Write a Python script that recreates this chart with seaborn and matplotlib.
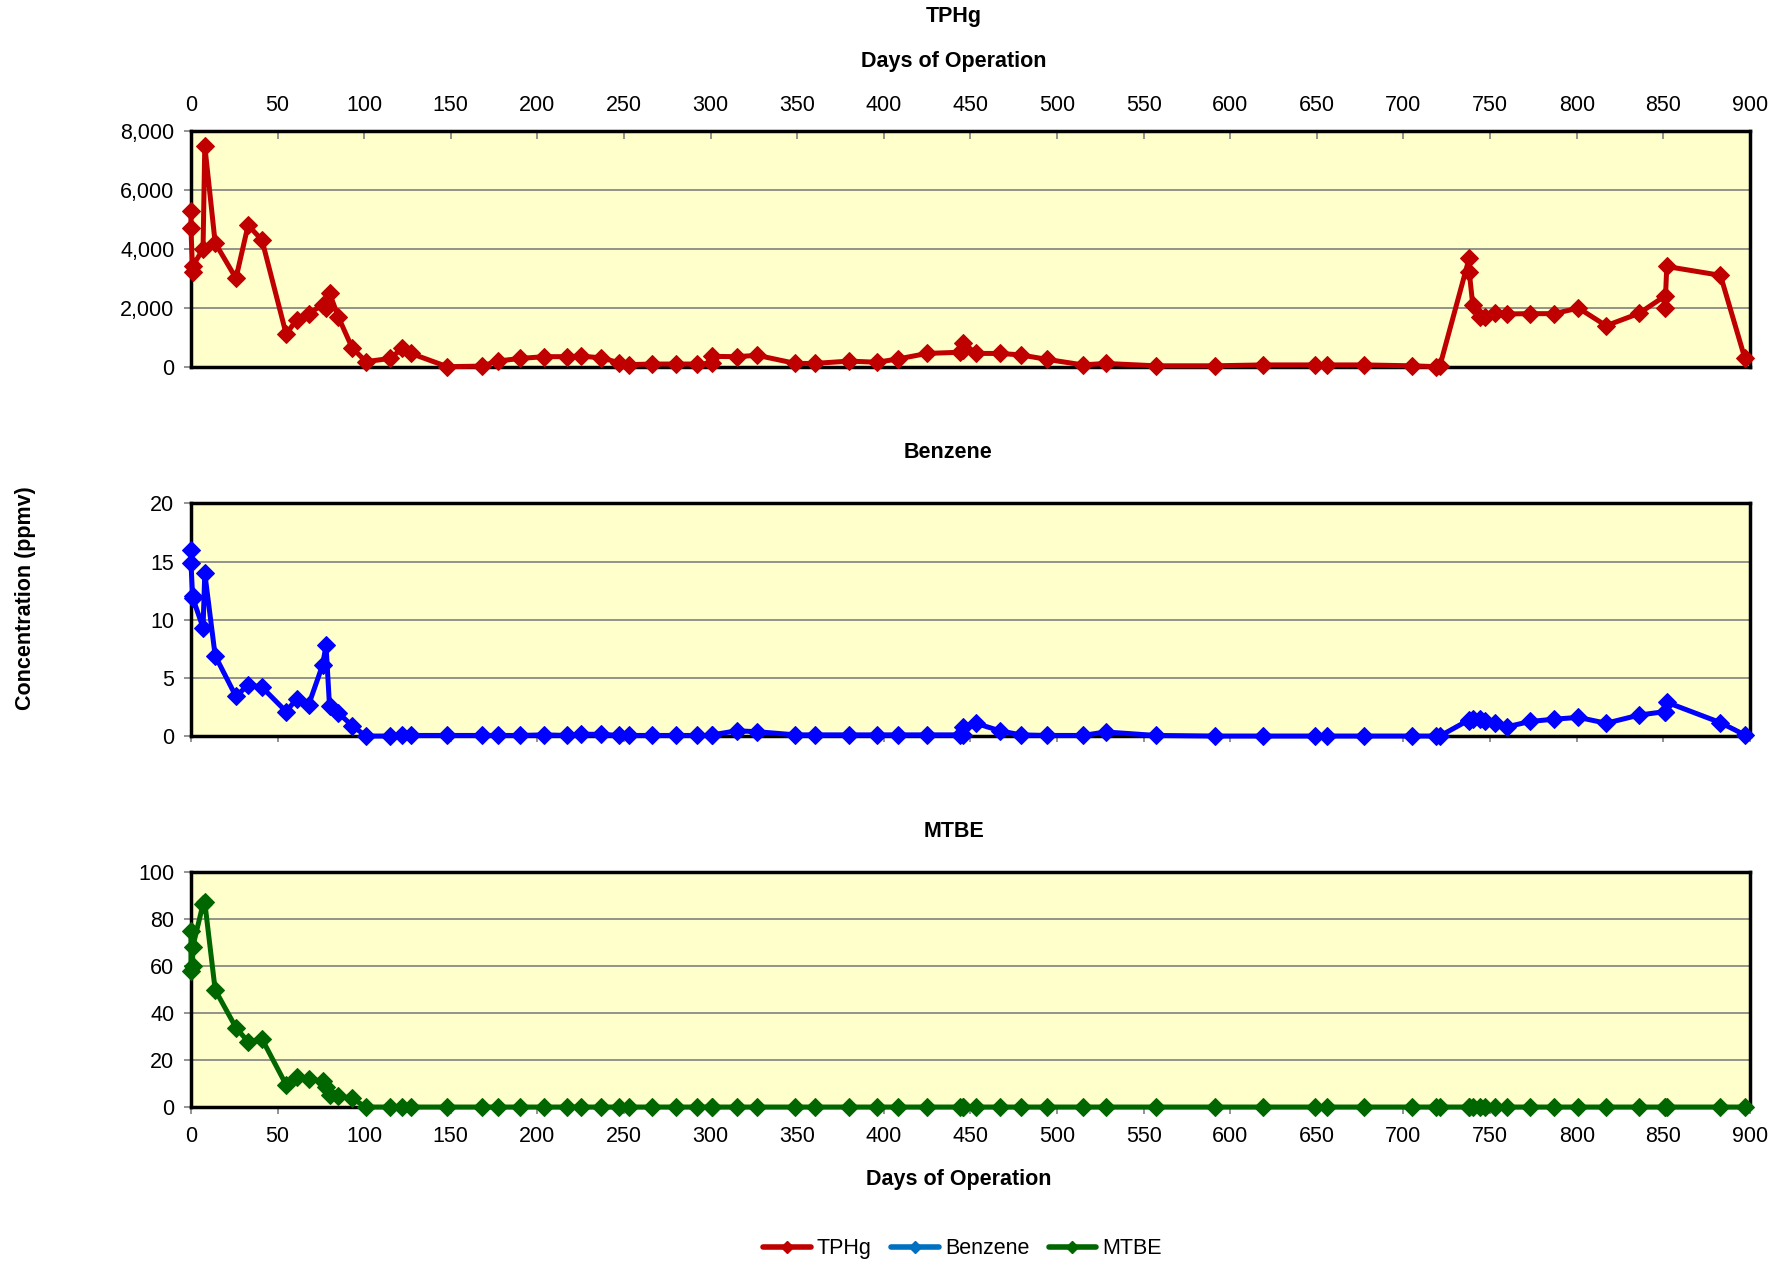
import matplotlib
matplotlib.use('Agg')
import matplotlib.pyplot as plt
from matplotlib.lines import Line2D
from matplotlib.ticker import FuncFormatter, MultipleLocator
import seaborn as sns

sns.set_style('white')
plt.rcParams['font.family'] = ['Liberation Sans', 'DejaVu Sans']
plt.rcParams['text.color'] = 'black'
plt.rcParams['xtick.labelcolor'] = 'black'
plt.rcParams['ytick.labelcolor'] = 'black'

# sampling days (shared by all three compounds)
days = [0, 0, 1, 1, 7, 8, 14, 26, 33, 41,
        55, 61, 68, 76, 78, 80, 85, 93, 101, 115,
        122, 127, 148, 168, 177, 190, 204, 217, 225, 237,
        247, 253, 266, 280, 292, 301, 301, 315, 327, 349,
        360, 380, 396, 408, 425, 444, 446, 446, 453, 467,
        479, 494, 515, 528, 557, 591, 619, 649, 656, 677,
        705, 719, 721, 738, 738, 740, 744, 747, 753, 760,
        773, 787, 801, 817, 836, 851, 851, 852, 883, 897]

tphg = [5300, 4700, 3200, 3400, 4000, 7500, 4200, 3000, 4800, 4300,
        1100, 1600, 1800, 2100, 2000, 2500, 1700, 650, 170, 280,
        620, 450, 0, 20, 190, 280, 340, 340, 360, 300,
        135, 70, 90, 90, 90, 110, 350, 340, 385, 110,
        110, 190, 150, 260, 450, 490, 570, 815, 450, 450,
        400, 250, 60, 110, 30, 30, 60, 60, 60, 60,
        30, 0, 20, 3700, 3200, 2100, 1700, 1670, 1810, 1790,
        1800, 1800, 1990, 1390, 1810, 2400, 2000, 3400, 3100, 300]

benzene = [16.0, 14.9, 12.0, 11.9, 9.3, 14.0, 6.9, 3.4, 4.4, 4.2,
           2.1, 3.2, 2.7, 6.1, 7.8, 2.6, 2.0, 0.9, 0.0, 0.0,
           0.05, 0.05, 0.05, 0.05, 0.05, 0.05, 0.1, 0.05, 0.15, 0.15,
           0.05, 0.05, 0.05, 0.05, 0.05, 0.05, 0.1, 0.45, 0.37, 0.1,
           0.1, 0.1, 0.1, 0.1, 0.1, 0.1, 0.1, 0.8, 1.1, 0.45,
           0.1, 0.05, 0.05, 0.35, 0.05, 0.0, 0.0, 0.0, 0.0, 0.0,
           0.0, 0.0, 0.0, 1.4, 1.3, 1.45, 1.45, 1.25, 1.15, 0.8,
           1.25, 1.45, 1.6, 1.1, 1.8, 2.1, 2.1, 2.9, 1.15, 0.1]

mtbe = [75, 58, 60, 68, 86.5, 87.2, 49.9, 33.8, 27.8, 29,
        9.4, 12.9, 11.8, 11.1, 8.7, 5.1, 4.7, 3.7, 0, 0,
        0, 0, 0, 0, 0, 0, 0, 0, 0, 0,
        0, 0, 0, 0, 0, 0, 0, 0, 0, 0,
        0, 0, 0, 0, 0, 0, 0, 0, 0, 0,
        0, 0, 0, 0, 0, 0, 0, 0, 0, 0,
        0, 0, 0, 0, 0, 0, 0, 0, 0, 0,
        0, 0, 0, 0, 0, 0, 0, 0, 0, 0]

names = ['TPHg', 'Benzene', 'MTBE']
colors = ['#C00000', '#0000FF', '#006600']
legend_colors = ['#C00000', '#0070C0', '#006600']
ymax = [8000, 20, 100]
ystep = [2000, 5, 20]

fig = plt.figure(figsize=(17.86, 12.64), dpi=100)
rects = [[0.1069, 0.7099, 0.8729, 0.1865],
         [0.1069, 0.4177, 0.8729, 0.1841],
         [0.1069, 0.1242, 0.8729, 0.1857]]

fs = 15.5

for i, vals in enumerate([tphg, benzene, mtbe]):
    ax = fig.add_axes(rects[i])
    ax.set_facecolor('#FFFFCC')
    sns.lineplot(x=days, y=vals, ax=ax, sort=False, estimator=None,
                 color=colors[i], linewidth=3.6, marker='D', markersize=9,
                 markeredgecolor=colors[i], clip_on=False, zorder=3)
    ax.set_xlim(0, 900)
    ax.set_ylim(0, ymax[i])
    ax.xaxis.set_major_locator(MultipleLocator(50))
    ax.yaxis.set_major_locator(MultipleLocator(ystep[i]))
    ax.set_axisbelow(True)
    ax.yaxis.grid(True, color='#808080', linewidth=1.2)
    ax.xaxis.grid(False)
    for s in ax.spines.values():
        s.set_color('black')
        s.set_linewidth(2.5)
    ax.set_xlabel('')
    ax.set_ylabel('')
    ax.tick_params(axis='y', direction='out', length=5, width=1.2,
                   labelsize=fs, pad=7, left=True, color='#808080')
    if i == 0:
        ax.yaxis.set_major_formatter(FuncFormatter(lambda v, p: f'{v:,.0f}'))
        ax.xaxis.tick_top()
        ax.tick_params(axis='x', direction='in', length=6, width=1.2,
                       labelsize=fs, pad=11, color='#808080')
    elif i == 1:
        ax.tick_params(axis='x', direction='out', length=4, width=1.2,
                       labelbottom=False, bottom=True, color='#808080')
    else:
        ax.tick_params(axis='x', direction='out', length=5, width=1.2,
                       labelsize=fs, pad=9, bottom=True, color='#808080')

fig.text(0.534, 0.9866, 'TPHg', ha='center', va='center', fontsize=fs, fontweight='bold')
fig.text(0.534, 0.9513, 'Days of Operation', ha='center', va='center', fontsize=fs, fontweight='bold')
fig.text(0.531, 0.6424, 'Benzene', ha='center', va='center', fontsize=fs, fontweight='bold')
fig.text(0.534, 0.3424, 'MTBE', ha='center', va='center', fontsize=fs, fontweight='bold')
fig.text(0.537, 0.0666, 'Days of Operation', ha='center', va='center', fontsize=fs, fontweight='bold')
fig.text(0.014, 0.527, 'Concentration (ppmv)', ha='center', va='center',
         rotation=90, fontsize=fs, fontweight='bold')

handles = [Line2D([], [], color=c, linewidth=4, marker='D', markersize=6) for c in legend_colors]
fig.legend(handles, names, loc='center', bbox_to_anchor=(0.539, 0.012), ncol=3,
           frameon=False, fontsize=fs, handlelength=2.2, handletextpad=0.3,
           columnspacing=0.9)

fig.savefig('out.png', dpi=100)
